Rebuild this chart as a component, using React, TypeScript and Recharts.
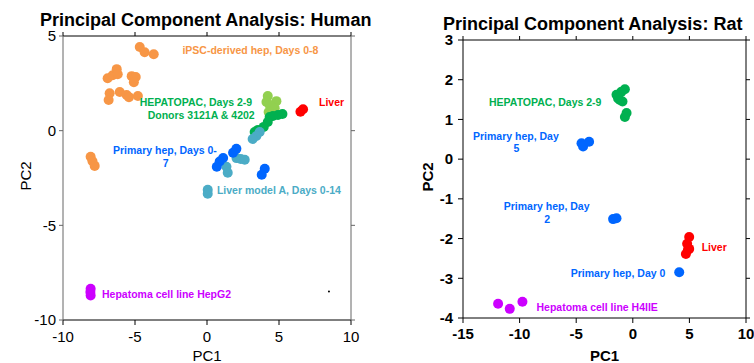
import { ScatterChart, Scatter, XAxis, YAxis, Label } from 'recharts'

type Pt = { x: number; y: number }
type Note = { x: number; y: number; text: string; group: string }

// Human PCA
const humanIpsc: Pt[] = [
  { x: -4.67, y: 4.42 }, { x: -4.33, y: 4.14 }, { x: -3.7, y: 4.04 },
  { x: -6.9, y: 2.77 }, { x: -6.55, y: 2.93 }, { x: -6.27, y: 3.25 }, { x: -6.2, y: 2.98 },
  { x: -5.23, y: 2.88 }, { x: -4.95, y: 2.83 }, { x: -5.08, y: 2.56 },
  { x: -6.76, y: 1.98 }, { x: -6.83, y: 1.62 }, { x: -6.06, y: 2.04 }, { x: -5.58, y: 1.88 },
  { x: -5.42, y: 1.77 }, { x: -4.8, y: 1.83 },
  { x: -8.08, y: -1.38 }, { x: -7.95, y: -1.62 }, { x: -7.8, y: -1.86 },
]
const humanHepatopacLight: Pt[] = [
  { x: 4.22, y: 1.83 }, { x: 4.82, y: 1.56 }, { x: 4.13, y: 1.51 },
  { x: 4.35, y: 1.35 }, { x: 4.7, y: 1.19 }, { x: 4.28, y: 0.98 },
]
const humanHepatopacDark: Pt[] = [
  { x: 5.24, y: 0.88 }, { x: 4.93, y: 0.83 }, { x: 4.58, y: 0.77 }, { x: 4.35, y: 0.72 },
  { x: 4.22, y: 0.46 }, { x: 3.94, y: 0.2 }, { x: 3.54, y: 0.04 }, { x: 3.31, y: -0.07 },
]
const humanLiverModel: Pt[] = [
  { x: 3.66, y: -0.07 }, { x: 3.43, y: -0.28 }, { x: 3.17, y: -0.44 },
  { x: 2.05, y: -1.45 }, { x: 2.34, y: -1.49 }, { x: 2.62, y: -1.54 },
  { x: 1.35, y: -1.91 }, { x: 1.44, y: -2.22 },
  { x: 0.05, y: -3.12 }, { x: 0.05, y: -3.33 },
]
const humanPrimary: Pt[] = [
  { x: 2.04, y: -0.96 }, { x: 1.81, y: -1.17 }, { x: 1.12, y: -1.44 },
  { x: 0.88, y: -1.63 }, { x: 0.68, y: -1.91 }, { x: 4.01, y: -2.01 }, { x: 3.8, y: -2.33 },
]
const humanLiver: Pt[] = [{ x: 6.67, y: 1.13 }, { x: 6.49, y: 1.0 }]
const humanHepg2: Pt[] = [{ x: -8.08, y: -8.35 }, { x: -8.1, y: -8.52 }, { x: -8.08, y: -8.7 }]
const humanStray: Pt[] = [{ x: 8.47, y: -8.5 }]

const humanNotes: Note[] = [
  { x: -1.71, y: 4.28, text: 'iPSC-derived hep, Days 0-8', group: 'ipsc' },
  { x: -4.67, y: 1.53, text: 'HEPATOPAC, Days 2-9', group: 'hepatopac' },
  { x: -4.12, y: 0.83, text: 'Donors 3121A & 4202', group: 'hepatopac' },
  { x: 7.78, y: 1.49, text: 'Liver', group: 'liver' },
  { x: -6.53, y: -1.02, text: 'Primary hep, Days 0-', group: 'primary' },
  { x: -3.08, y: -1.72, text: '7', group: 'primary' },
  { x: 0.69, y: -3.16, text: 'Liver model A, Days 0-14', group: 'model' },
  { x: -7.29, y: -8.61, text: 'Hepatoma cell line HepG2', group: 'hepatoma' },
]

// Rat PCA
const ratHepatopac: Pt[] = [
  { x: -1.44, y: 1.62 }, { x: -1.0, y: 1.7 }, { x: -0.7, y: 1.76 }, { x: -1.14, y: 1.49 },
  { x: -0.91, y: 1.45 }, { x: -1.3, y: 1.53 }, { x: -0.55, y: 1.16 }, { x: -0.7, y: 1.06 },
]
const ratPrimaryDay5: Pt[] = [{ x: -4.53, y: 0.4 }, { x: -4.39, y: 0.32 }, { x: -3.86, y: 0.44 }]
const ratPrimaryDay2: Pt[] = [{ x: -1.74, y: -1.51 }, { x: -1.44, y: -1.49 }]
const ratPrimaryDay0: Pt[] = [{ x: 4.1, y: -2.85 }]
const ratLiver: Pt[] = [
  { x: 4.98, y: -1.96 }, { x: 4.8, y: -2.13 }, { x: 4.98, y: -2.26 },
  { x: 4.87, y: -2.28 }, { x: 4.69, y: -2.39 },
]
const ratH4iie: Pt[] = [{ x: -11.9, y: -3.64 }, { x: -10.87, y: -3.77 }, { x: -9.75, y: -3.59 }]

const ratNotes: Note[] = [
  { x: -12.7, y: 1.45, text: 'HEPATOPAC, Days 2-9', group: 'hepatopac' },
  { x: -14.12, y: 0.585, text: 'Primary hep, Day', group: 'primary' },
  { x: -10.53, y: 0.28, text: '5', group: 'primary' },
  { x: -11.4, y: -1.19, text: 'Primary hep, Day', group: 'primary' },
  { x: -7.83, y: -1.51, text: '2', group: 'primary' },
  { x: 6.08, y: -2.21, text: 'Liver', group: 'liver' },
  { x: -5.48, y: -2.86, text: 'Primary hep, Day 0', group: 'primary' },
  { x: -8.51, y: -3.72, text: 'Hepatoma cell line H4IIE', group: 'hepatoma' },
]

const humanXTicks = [-10, -5, 0, 5, 10]
const humanYTicks = [-10, -5, 0, 5]
const ratXTicks = [-15, -10, -5, 0, 5, 10]
const ratYTicks = [-4, -3, -2, -1, 0, 1, 2, 3]

const COLORS: Record<string, string> = {
  ipsc: '#F79646',
  hepatopacLight: '#92D050',
  hepatopac: '#00B050',
  model: '#4BACC6',
  primary: '#0066FF',
  liver: '#FF0000',
  hepatoma: '#CC00FF',
}

const FONT = "Arial, 'Liberation Sans', sans-serif"

const dot = (color: string, r = 5) => (props: any) => (
  <circle cx={props.cx} cy={props.cy} r={r} fill={color} />
)
// tick renderer for the mirrored box axes: tick marks only, no labels
const noLabel = () => <g />

const note = (props: any) => (
  <text
    x={props.cx}
    y={props.cy}
    dominantBaseline="central"
    fill={COLORS[props.payload.group]}
    fontSize={10.5}
    fontWeight="bold"
    fontFamily={FONT}
  >
    {props.payload.text}
  </text>
)

function HumanChart() {
  const tickStyle = { fill: '#000', fontSize: 15, fontFamily: FONT }
  return (
    <ScatterChart width={380} height={363} margin={{ top: 31, right: 24, bottom: 0, left: 0 }}>
      <XAxis type="number" dataKey="x" domain={[-10, 10]} ticks={humanXTicks} height={43}
        stroke="#000" tick={tickStyle} tickSize={5} tickMargin={6} allowDataOverflow>
        <Label value="PC1" position="insideBottom" offset={2} fill="#000" fontSize={15} fontFamily={FONT} />
      </XAxis>
      <XAxis xAxisId="top" type="number" dataKey="x" orientation="top" domain={[-10, 10]} ticks={humanXTicks}
        height={5} stroke="#000" tick={noLabel} tickSize={4} allowDataOverflow />
      <YAxis type="number" dataKey="y" domain={[-10, 5]} ticks={humanYTicks} width={63}
        stroke="#666" tick={tickStyle} tickSize={4} tickMargin={3} allowDataOverflow
        label={{
          content: () => (
            <text x={31} y={176} transform="rotate(-90 31 176)" textAnchor="middle"
              fill="#000" fontSize={15} fontFamily={FONT}>PC2</text>
          ),
        }} />
      <YAxis yAxisId="right" type="number" dataKey="y" orientation="right" domain={[-10, 5]} ticks={humanYTicks}
        width={5} stroke="#666" tick={noLabel} tickSize={4} allowDataOverflow />
      <Scatter data={humanLiver} xAxisId="top" yAxisId="right" shape={noLabel} isAnimationActive={false} />
      <Scatter data={humanIpsc} shape={dot(COLORS.ipsc)} isAnimationActive={false} />
      <Scatter data={humanHepatopacLight} shape={dot(COLORS.hepatopacLight)} isAnimationActive={false} />
      <Scatter data={humanHepatopacDark} shape={dot(COLORS.hepatopac)} isAnimationActive={false} />
      <Scatter data={humanLiverModel} shape={dot(COLORS.model)} isAnimationActive={false} />
      <Scatter data={humanPrimary} shape={dot(COLORS.primary)} isAnimationActive={false} />
      <Scatter data={humanLiver} shape={dot(COLORS.liver)} isAnimationActive={false} />
      <Scatter data={humanHepg2} shape={dot(COLORS.hepatoma)} isAnimationActive={false} />
      <Scatter data={humanStray} shape={dot('#000', 1)} isAnimationActive={false} />
      <Scatter data={humanNotes} shape={note} isAnimationActive={false} />
    </ScatterChart>
  )
}

function RatChart() {
  const tickStyle = { fill: '#000', fontSize: 15, fontWeight: 'bold', fontFamily: FONT }
  return (
    <ScatterChart width={374} height={363} margin={{ top: 35, right: 3, bottom: 0, left: 0 }}>
      <XAxis type="number" dataKey="x" domain={[-15, 10]} ticks={ratXTicks} height={45}
        stroke="#000" tick={tickStyle} tickSize={5} tickMargin={5} allowDataOverflow>
        <Label value="PC1" position="insideBottom" offset={2} fill="#000" fontSize={15}
          fontWeight="bold" fontFamily={FONT} />
      </XAxis>
      <XAxis xAxisId="top" type="number" dataKey="x" orientation="top" domain={[-15, 10]} ticks={ratXTicks}
        height={5} stroke="#000" tick={noLabel} tickSize={4} allowDataOverflow />
      <YAxis type="number" dataKey="y" domain={[-4, 3]} ticks={ratYTicks} width={83}
        stroke="#000" tick={tickStyle} tickSize={5} tickMargin={5} allowDataOverflow
        label={{
          content: () => (
            <text x={53} y={177} transform="rotate(-90 53 177)" textAnchor="middle"
              fill="#000" fontSize={15} fontWeight="bold" fontFamily={FONT}>PC2</text>
          ),
        }} />
      <YAxis yAxisId="right" type="number" dataKey="y" orientation="right" domain={[-4, 3]} ticks={ratYTicks}
        width={5} stroke="#000" tick={noLabel} tickSize={4} allowDataOverflow />
      <Scatter data={ratLiver} xAxisId="top" yAxisId="right" shape={noLabel} isAnimationActive={false} />
      <Scatter data={ratHepatopac} shape={dot(COLORS.hepatopac)} isAnimationActive={false} />
      <Scatter data={ratPrimaryDay5} shape={dot(COLORS.primary)} isAnimationActive={false} />
      <Scatter data={ratPrimaryDay2} shape={dot(COLORS.primary)} isAnimationActive={false} />
      <Scatter data={ratPrimaryDay0} shape={dot(COLORS.primary)} isAnimationActive={false} />
      <Scatter data={ratLiver} shape={dot(COLORS.liver)} isAnimationActive={false} />
      <Scatter data={ratH4iie} shape={dot(COLORS.hepatoma)} isAnimationActive={false} />
      <Scatter data={ratNotes} shape={note} isAnimationActive={false} />
    </ScatterChart>
  )
}

export default function App() {
  const titleStyle: React.CSSProperties = {
    position: 'absolute',
    fontFamily: FONT,
    fontWeight: 'bold',
    fontSize: 18,
    lineHeight: '18px',
    whiteSpace: 'nowrap',
    color: '#000',
  }
  return (
    <div style={{ position: 'absolute', left: 0, top: 0, width: 754, height: 363, overflow: 'hidden', background: '#fff' }}>
      <div style={{ position: 'absolute', left: 0, top: 0 }}>
        <HumanChart />
      </div>
      <div style={{ position: 'absolute', left: 380, top: 0 }}>
        <RatChart />
      </div>
      <div style={{ ...titleStyle, left: 40, top: 11 }}>Principal Component Analysis: Human</div>
      <div style={{ ...titleStyle, left: 443, top: 14.5 }}>Principal Component Analysis: Rat</div>
    </div>
  )
}
